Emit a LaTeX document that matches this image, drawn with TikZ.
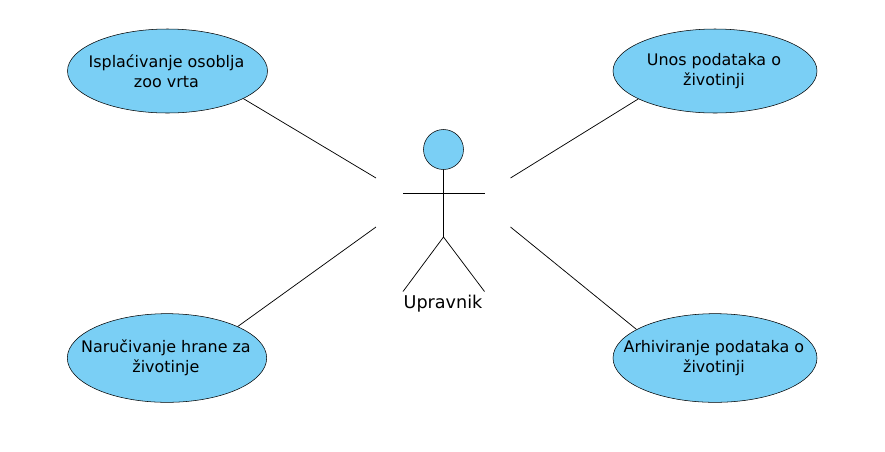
\documentclass[tikz,border=0pt]{standalone}
\usepackage{fontspec}
\setmainfont{DejaVu Sans}
\usetikzlibrary{shapes.geometric}

\begin{document}
\begin{tikzpicture}[x=0.75pt,y=-0.75pt]
	\definecolor{usecase area}{HTML}{7ACFF5}

	\tikzset{
		usecase/.style={ellipse, draw=black, fill=usecase area, inner sep=0pt, label={[align=center, inner sep=0pt, xshift=-0.8pt, font=\fontsize{11.95}{15}\selectfont]center:#1}},
		actorhead/.style={circle, draw=black, fill=usecase area, inner sep=0pt, minimum size=30pt},
		actorname/.style={inner sep=0pt, font=\fontsize{13.2}{16}\selectfont},
		link/.style={draw=black, line width=0.55pt},
	}

	\useasboundingbox (0,0) rectangle (885,451);

	% use cases
	\node[usecase={Isplaćivanje osoblja\\zoo vrta}, minimum width=150pt, minimum height=63pt] (isplata) at (167.5,71) {};
	\node[usecase={Unos podataka o\\životinji}, minimum width=153pt, minimum height=63pt] (unos) at (715,71) {};
	\node[usecase={Naručivanje hrane za\\životinje}, minimum width=149.5pt, minimum height=66.5pt] (hrana) at (167,358) {};
	\node[usecase={Arhiviranje podataka o\\životinji}, minimum width=153pt, minimum height=66.5pt] (arhiva) at (715,358) {};

	% actor
	\node[actorhead] (glava) at (443.5,149.5) {};
	\coordinate (kuk) at (443.5,237);
	\coordinate (rukaL) at (403,193);
	\coordinate (rukaD) at (484.5,193);
	\coordinate (nogaL) at (403,291.5);
	\coordinate (nogaD) at (484.5,291.5);
	\node[actorname] (upravnik) at (443,304) {Upravnik};
	\draw[link] (glava.south) -- (kuk);
	\draw[link] (rukaL) -- (rukaD);
	\draw[link] (nogaL) -- (kuk) -- (nogaD);

	% free ends
	\coordinate (krajA) at (376,178);
	\coordinate (krajB) at (510.5,178);
	\coordinate (krajC) at (376,227);
	\coordinate (krajD) at (510.5,227);

	\draw[link] (isplata.-20) -- (krajA);
	\draw[link] (unos.-160) -- (krajB);
	\draw[link] (hrana.24) -- (krajC);
	\draw[link] (arhiva.160) -- (krajD);
\end{tikzpicture}
\end{document}
